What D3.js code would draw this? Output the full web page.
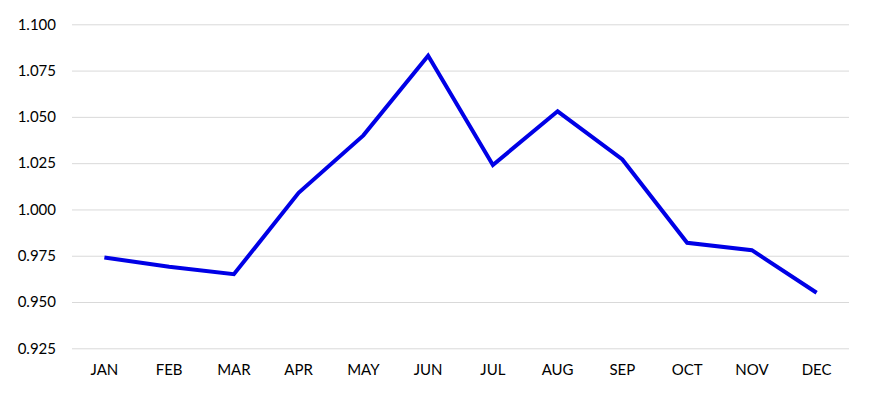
<!DOCTYPE html>
<html><head><meta charset="utf-8">
<script src="https://cdn.jsdelivr.net/npm/d3@7"></script>
<style>body{margin:0;background:#fff}svg{display:block}text{font-family:Lato,"Open Sans",sans-serif}</style>
</head><body><svg id="c" width="870" height="414"></svg>
<script>
const months = ["JAN","FEB","MAR","APR","MAY","JUN","JUL","AUG","SEP","OCT","NOV","DEC"];
const values = [0.974,0.969,0.965,1.009,1.040,1.083,1.024,1.053,1.027,0.982,0.978,0.955];
const yTicks = [0.925,0.950,0.975,1.000,1.025,1.050,1.075,1.100];

const svg = d3.select("#c");
const L = 72, R = 849, T = 24.3, B = 348.3;
const x = d3.scaleBand().domain(months).range([L, R]);
const y = d3.scaleLinear().domain([0.925, 1.100]).range([B, T]);

const yAxis = svg.append("g").attr("transform", `translate(${L},0)`)
  .call(d3.axisLeft(y).tickValues(yTicks).tickFormat(d3.format(".3f")).tickSize(-(R - L)).tickPadding(16));
yAxis.select(".domain").remove();
yAxis.selectAll("line").attr("stroke", "#d9d9d9").attr("stroke-width", 1);
yAxis.selectAll("text").attr("font-size", 15).attr("fill", "#000");

const xAxis = svg.append("g").attr("transform", `translate(0,${B})`)
  .call(d3.axisBottom(x).tickSize(0).tickPadding(16));
xAxis.select(".domain").remove();
xAxis.selectAll("text").attr("font-size", 15).attr("fill", "#000");

svg.append("path").datum(values)
  .attr("fill", "none").attr("stroke", "#0000e6").attr("stroke-width", 4)
  .attr("stroke-linejoin", "miter")
  .attr("d", d3.line().x((d, i) => x(months[i]) + x.bandwidth() / 2).y(d => y(d)));
</script></body></html>
